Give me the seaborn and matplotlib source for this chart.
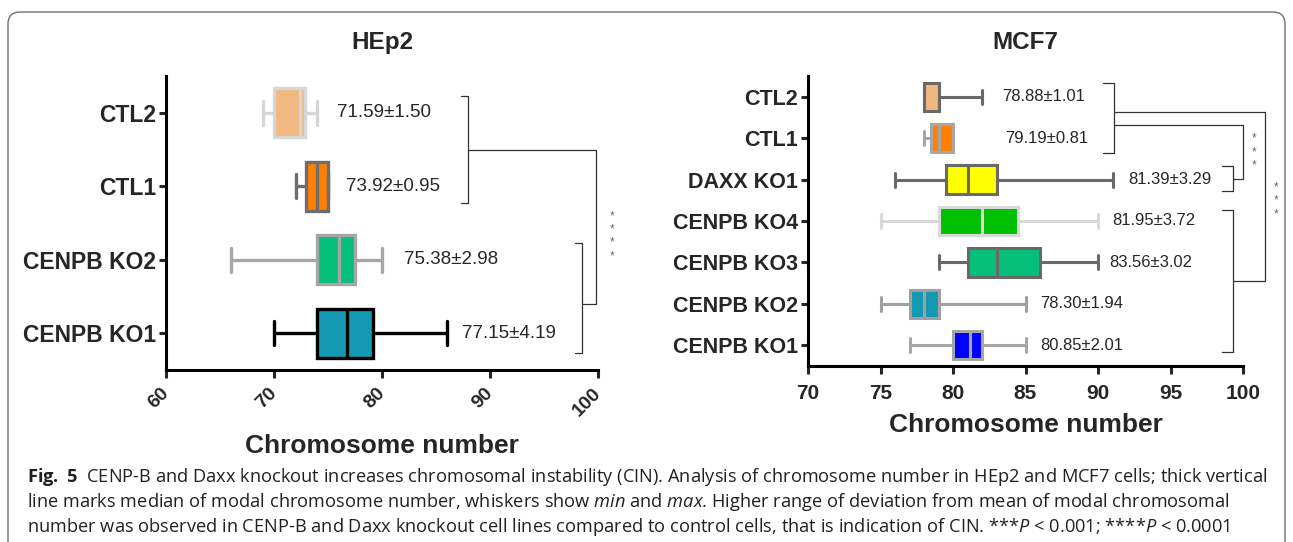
import numpy as np
import pandas as pd
import matplotlib
matplotlib.use("Agg")
import matplotlib.pyplot as plt
import seaborn as sns
from matplotlib.patches import FancyBboxPatch
from matplotlib.transforms import IdentityTransform

# five-number summaries: min, q1, median, q3, max
hep2_groups = ["CTL2", "CTL1", "CENPB KO2", "CENPB KO1"]
hep2_ctl2 = [69, 70, 72.4, 72.9, 74]
hep2_ctl1 = [72, 73, 74, 75, 75]
hep2_ko2 = [66, 74, 76, 77.5, 80]
hep2_ko1 = [70, 74, 76.8, 79.2, 86]
hep2_text = ["71.59±1.50", "73.92±0.95", "75.38±2.98", "77.15±4.19"]
hep2_fill = ["#F2B880", "#FF8000", "#05BF7A", "#1499B3"]
hep2_edge = ["#D6D6D6", "#6E6E6E", "#A6A6A6", "#000000"]

mcf7_groups = ["CTL2", "CTL1", "DAXX KO1", "CENPB KO4", "CENPB KO3", "CENPB KO2", "CENPB KO1"]
mcf7_ctl2 = [78, 78, 79, 79, 82]
mcf7_ctl1 = [78, 78.5, 79, 80, 80]
mcf7_daxx = [76, 79.5, 81, 83, 91]
mcf7_ko4 = [75, 79, 82, 84.5, 90]
mcf7_ko3 = [79, 81, 83, 86, 90]
mcf7_ko2 = [75, 77, 78, 79, 85]
mcf7_ko1 = [77, 80, 81.2, 82, 85]
mcf7_text = ["78.88±1.01", "79.19±0.81", "81.39±3.29", "81.95±3.72",
             "83.56±3.02", "78.30±1.94", "80.85±2.01"]
mcf7_fill = ["#F2B77E", "#FF8000", "#FFFF00", "#00C000", "#05BF7A", "#1499B3", "#0000FF"]
mcf7_edge = ["#696969", "#A6A6A6", "#696969", "#D9D9D9", "#696969", "#A0A0A0", "#A6A6A6"]

# where the value labels start (x, data units)
hep2_text_x = [75.8, 76.7, 82.0, 87.4]
mcf7_text_x = [83.4, 83.6, 92.1, 91.0, 90.8, 86.0, 86.0]

sns.set_style("ticks")
plt.rcParams["font.family"] = ["Liberation Sans", "DejaVu Sans"]
plt.rcParams["mathtext.fontset"] = "custom"
plt.rcParams["mathtext.rm"] = "Open Sans"
plt.rcParams["mathtext.it"] = "Open Sans:italic"
plt.rcParams["mathtext.bf"] = "Open Sans:bold"

W, H = 1293, 542
fig = plt.figure(figsize=(W / 100, H / 100), dpi=100)


def long_table(groups, summaries):
    rows = []
    for g, vals in zip(groups, summaries):
        for v in vals:
            rows.append((g, v))
    return pd.DataFrame(rows, columns=["group", "value"])


def draw_panel(ax, groups, summaries, fills, edges, width, lw):
    df = long_table(groups, summaries)
    for g, fc, ec in zip(groups, fills, edges):
        sns.boxplot(data=df[df.group == g], x="value", y="group", order=groups,
                    orient="h", color=fc, linecolor=ec, linewidth=lw,
                    whis=(0, 100), width=width, saturation=1, ax=ax)
    for side in ["top", "right"]:
        ax.spines[side].set_visible(False)
    for side in ["left", "bottom"]:
        ax.spines[side].set_linewidth(2.2)
        ax.spines[side].set_color("black")
    ax.set_ylabel("")
    ax.set_xlabel("")


def bracket(ax, x, y0, y1, tick):
    ax.plot([x - tick, x, x, x - tick], [y0, y0, y1, y1],
            color="#333333", lw=0.9, clip_on=False)


def link(ax, xs, ys):
    ax.plot(xs, ys, color="#333333", lw=0.9, clip_on=False)


def stars(ax, x, y, n):
    ax.text(x, y, "\n".join(["*"] * n), ha="center", va="center", fontsize=8.5,
            color="#666666", linespacing=1.15, clip_on=False)


# ---- HEp2 ----
ax1 = fig.add_axes([166 / W, 1 - 370 / H, 432 / W, 294 / H])
draw_panel(ax1, hep2_groups, [hep2_ctl2, hep2_ctl1, hep2_ko2, hep2_ko1],
           hep2_fill, hep2_edge, 0.66, 2.4)
ax1.set_xlim(60, 100)
ax1.set_ylim(3.5, -0.5)
ax1.set_xticks([60, 70, 80, 90, 100])
ax1.tick_params(axis="y", length=5, width=2.2, pad=2, labelsize=16.5)
ax1.tick_params(axis="x", length=6, width=2.2, pad=9, labelsize=14)
for t in ax1.get_yticklabels():
    t.set_fontweight("bold")
for t in ax1.get_xticklabels():
    t.set_fontweight("bold")
    t.set_rotation(45)
    t.set_ha("right")
    t.set_va("center")
    t.set_rotation_mode("anchor")
ax1.set_xlabel("Chromosome number", fontsize=19, fontweight="bold")
ax1.xaxis.set_label_coords(0.5, -(446 - 370) / 294)
ax1.xaxis.label.set_va("center")
for i, (tx, s) in enumerate(zip(hep2_text_x, hep2_text)):
    ax1.text(tx, i, s, ha="left", va="center", fontsize=13.5)

bracket(ax1, 88.0, -0.23, 1.23, 0.65)
bracket(ax1, 98.5, 1.77, 3.27, 0.65)
link(ax1, [88.0, 99.8, 99.8, 98.5], [0.5, 0.5, 2.6, 2.6])
stars(ax1, 101.3, 1.68, 4)
fig.text(382 / W, 1 - 42 / H, "HEp2", ha="center", va="center",
         fontsize=17.5, fontweight="bold")

# ---- MCF7 ----
ax2 = fig.add_axes([808 / W, 1 - 366 / H, 435 / W, 290 / H])
draw_panel(ax2, mcf7_groups,
           [mcf7_ctl2, mcf7_ctl1, mcf7_daxx, mcf7_ko4, mcf7_ko3, mcf7_ko2, mcf7_ko1],
           mcf7_fill, mcf7_edge, 0.68, 2.2)
ax2.set_xlim(70, 100)
ax2.set_ylim(6.5, -0.5)
ax2.set_xticks([70, 75, 80, 85, 90, 95, 100])
ax2.tick_params(axis="y", length=5, width=2.2, pad=2, labelsize=15.5)
ax2.tick_params(axis="x", length=6, width=2.2, pad=7, labelsize=15)
for t in ax2.get_yticklabels() + ax2.get_xticklabels():
    t.set_fontweight("bold")
ax2.set_xlabel("Chromosome number", fontsize=19, fontweight="bold")
ax2.xaxis.set_label_coords(0.5, -(425 - 366) / 290)
ax2.xaxis.label.set_va("center")
for i, (tx, s) in enumerate(zip(mcf7_text_x, mcf7_text)):
    ax2.text(tx, i, s, ha="left", va="center", fontsize=12)

bracket(ax2, 91.1, -0.32, 1.37, 0.75)
bracket(ax2, 99.3, 1.68, 2.27, 0.75)
bracket(ax2, 99.3, 2.73, 6.17, 0.75)
link(ax2, [91.1, 100.0, 100.0, 99.3], [0.68, 0.68, 1.98, 1.98])
link(ax2, [91.1, 101.5, 101.5, 99.3], [0.37, 0.37, 4.44, 4.44])
stars(ax2, 100.75, 1.34, 3)
stars(ax2, 102.3, 2.51, 3)
fig.text(1025 / W, 1 - 42 / H, "MCF7", ha="center", va="center",
         fontsize=17.5, fontweight="bold")

# frame around the figure panel
frame = FancyBboxPatch((8, -40), 1277, H - 12 + 40,
                       boxstyle="round,pad=0,rounding_size=12",
                       transform=IdentityTransform(), fill=False,
                       edgecolor="#6E6E6E", lw=1.0)
fig.add_artist(frame)

# caption
caption = [
    r"$\mathbf{Fig.\ 5}$  CENP-B and Daxx knockout increases chromosomal instability (CIN). "
    r"Analysis of chromosome number in HEp2 and MCF7 cells; thick vertical",
    r"line marks median of modal chromosome number, whiskers show $\mathit{min}$ and "
    r"$\mathit{max}$. Higher range of deviation from mean of modal chromosomal",
    r"number was observed in CENP-B and Daxx knockout cell lines compared to control cells, "
    r"that is indication of CIN. ***$\mathit{P}$ < 0.001; ****$\mathit{P}$ < 0.0001",
]
for k, line in enumerate(caption):
    fig.text(27 / W, 1 - (477 + 25 * k) / H, line, ha="left", va="center",
             fontsize=13.15, family=["Open Sans", "DejaVu Sans"], color="#231F20")

fig.savefig("out.png", dpi=100)
